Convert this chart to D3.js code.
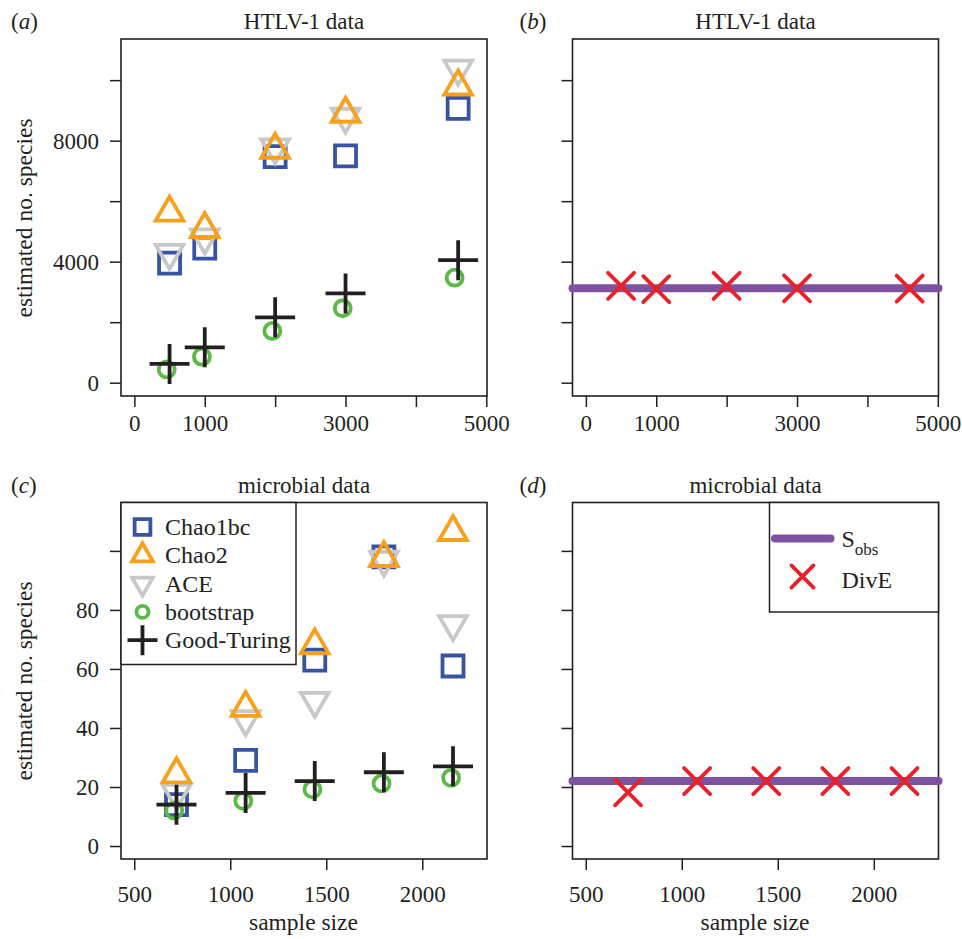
<!DOCTYPE html>
<html>
<head>
<meta charset="utf-8">
<script src="https://cdn.jsdelivr.net/npm/d3@7"></script>
<style>
  body { margin: 0; background: #fff; }
  svg text { font-family: "Liberation Serif", "DejaVu Serif", serif; fill: #231f20; }
</style>
</head>
<body>
<svg width="962" height="939"></svg>
<script>
// ---- data ----
// HTLV-1 data, panels (a) and (b)
var htlvSizes = [500, 1000, 2000, 3000, 4600];
var htlvBootSizes = [460, 960, 1960, 2960, 4550];
var htlvChao1bc = [3950, 4450, 7470, 7500, 9070];
var htlvChao2 = [5620, 5080, 7700, 8890, 9790];
var htlvACE = [4290, 4800, 7780, 8790, 10380];
var htlvBootstrap = [440, 860, 1710, 2460, 3470];
var htlvGoodTuring = [620, 1170, 2160, 2950, 4050];
var htlvSobs = 3120;
var htlvDivE = [3200, 3090, 3200, 3120, 3110];

// microbial data, panels (c) and (d)
var microSizes = [720, 1080, 1440, 1800, 2160];
var microBootSizes = [708, 1068, 1428, 1788, 2150];
var microChao1bc = [14, 29, 63, 98, 61];
var microChao2 = [24.3, 46.8, 68, 97.6, 106.4];
var microACE = [18, 43, 49.2, 97, 75.2];
var microBootstrap = [12, 15.3, 19.2, 21.2, 23.1];
var microGoodTuring = [14, 18, 22, 25, 27];
var microSobs = 22;
var microDivE = [18.2, 22, 22, 22, 22];

// ticks
var htlvXTicks = [0, 1000, 2000, 3000, 4000, 5000];
var htlvXLabels = [0, 1000, 3000, 5000];
var htlvYTicks = [0, 2000, 4000, 6000, 8000, 10000];
var htlvYLabels = [0, 4000, 8000];
var microXTicks = [500, 1000, 1500, 2000];
var microXLabels = [500, 1000, 1500, 2000];
var microYTicks = [0, 20, 40, 60, 80, 100];
var microYLabels = [0, 20, 40, 60, 80];

var legendNames = ["Chao1bc", "Chao2", "ACE", "bootstrap", "Good-Turing"];

// ---- styles ----
var col = {
  chao1bc: "#3953a4",
  chao2: "#f8a01b",
  ace: "#c8c8c8",
  boot: "#5bb947",
  gt: "#231f20",
  sobs: "#7f52a1",
  dive: "#e8212a",
  ink: "#231f20"
};
var lw = 3.8;
var fs = 23;

var svg = d3.select("svg");

// marker shapes (centred at 0,0)
function squarePath(k) { var s = 10.5 * k; return `M${-s},${-s}H${s}V${s}H${-s}Z`; }
function triUpPath(k) {
  var r = 16 * k, xc = r * Math.sqrt(3) / 2;
  return `M0,${-r}L${xc},${r / 2}L${-xc},${r / 2}Z`;
}
function triDownPath(k) {
  var r = 16 * k, xc = r * Math.sqrt(3) / 2;
  return `M0,${r}L${xc},${-r / 2}L${-xc},${-r / 2}Z`;
}
function plusPath(k) { var h = 20 * k; return `M${-h},0H${h}M0,${-h}V${h}`; }
function crossPath(k) { var h = 13 * k; return `M${-h},${-h}L${h},${h}M${-h},${h}L${h},${-h}`; }

function drawMarker(g, kind, x, y, k) {
  k = k || 1;
  var p = g.append("path").attr("transform", `translate(${x},${y})`)
    .attr("fill", "none").attr("stroke-width", lw);
  if (kind === "chao1bc") p.attr("d", squarePath(k)).attr("stroke", col.chao1bc);
  if (kind === "chao2") p.attr("d", triUpPath(k)).attr("stroke", col.chao2);
  if (kind === "ace") p.attr("d", triDownPath(k)).attr("stroke", col.ace);
  if (kind === "boot") {
    g.append("circle").attr("cx", x).attr("cy", y).attr("r", 8 * k)
      .attr("fill", "none").attr("stroke", col.boot).attr("stroke-width", lw);
    p.remove();
  }
  if (kind === "gt") p.attr("d", plusPath(k)).attr("stroke", col.gt);
  if (kind === "dive") p.attr("d", crossPath(k)).attr("stroke", col.dive).attr("stroke-linecap", "round");
}

// panel frame + axes
function makePanel(opt) {
  var g = svg.append("g").attr("transform", `translate(${opt.left},${opt.top})`);
  var x = d3.scaleLinear().domain(opt.xDomain).range([0, opt.w]);
  var y = d3.scaleLinear().domain(opt.yDomain).range([opt.h, 0]);

  var xa = g.append("g").attr("transform", `translate(0,${opt.h})`)
    .call(d3.axisBottom(x).tickValues(opt.xTicks).tickSize(11).tickSizeOuter(0)
      .tickFormat(function (d) { return opt.xLabels.indexOf(d) >= 0 ? d : ""; }));
  xa.select(".domain").remove();
  xa.selectAll("line").attr("stroke", col.ink).attr("stroke-width", 1.5);
  xa.selectAll("text").attr("font-size", fs).attr("font-family", null)
    .attr("fill", col.ink).attr("y", opt.xLabelY).attr("dy", 0);

  var ya = g.append("g")
    .call(d3.axisLeft(y).tickValues(opt.yTicks).tickSize(11).tickSizeOuter(0)
      .tickFormat(function (d) { return opt.yLabels.indexOf(d) >= 0 ? d : ""; }));
  ya.select(".domain").remove();
  ya.selectAll("line").attr("stroke", col.ink).attr("stroke-width", 1.5);
  ya.selectAll("text").attr("font-size", fs).attr("font-family", null)
    .attr("fill", col.ink).attr("x", -22).attr("dy", "0.34em");

  g.append("rect").attr("width", opt.w).attr("height", opt.h)
    .attr("fill", "none").attr("stroke", col.ink).attr("stroke-width", 1.6);

  // title and panel letter
  svg.append("text").attr("x", opt.left + opt.w / 2).attr("y", opt.top - 10)
    .attr("text-anchor", "middle").attr("font-size", fs).text(opt.title);
  var lab = svg.append("text").attr("x", opt.left - opt.letterDx).attr("y", opt.top - 10)
    .attr("font-size", fs);
  lab.append("tspan").text("(");
  lab.append("tspan").attr("font-style", "italic").text(opt.letter);
  lab.append("tspan").text(")");

  return { g: g, x: x, y: y };
}

var htlvX = [-190, 5010], htlvY = [-440, 11360];
var microX = [431, 2337], microY = [-4.4, 116.4];

var pa = makePanel({ left: 121, top: 39, w: 366, h: 357, xDomain: htlvX, yDomain: htlvY,
  xTicks: htlvXTicks, xLabels: htlvXLabels, yTicks: htlvYTicks, yLabels: htlvYLabels,
  xLabelY: 35, title: "HTLV-1 data", letter: "a", letterDx: 110 });
var pb = makePanel({ left: 572.5, top: 39, w: 366, h: 357, xDomain: htlvX, yDomain: htlvY,
  xTicks: htlvXTicks, xLabels: htlvXLabels, yTicks: htlvYTicks, yLabels: [],
  xLabelY: 35, title: "HTLV-1 data", letter: "b", letterDx: 53 });
var pc = makePanel({ left: 121, top: 502.5, w: 366, h: 356.5, xDomain: microX, yDomain: microY,
  xTicks: microXTicks, xLabels: microXLabels, yTicks: microYTicks, yLabels: microYLabels,
  xLabelY: 43, title: "microbial data", letter: "c", letterDx: 110 });
var pd = makePanel({ left: 572.5, top: 502.5, w: 366, h: 356.5, xDomain: microX, yDomain: microY,
  xTicks: microXTicks, xLabels: microXLabels, yTicks: microYTicks, yLabels: [],
  xLabelY: 43, title: "microbial data", letter: "d", letterDx: 53 });

// axis titles
[[218, "estimated no. species"], [681, "estimated no. species"]].forEach(function (d) {
  svg.append("text").attr("transform", `translate(31.5,${d[0]}) rotate(-90)`)
    .attr("text-anchor", "middle").attr("font-size", fs + 0.5).text(d[1]);
});
[303.5, 755].forEach(function (cx) {
  svg.append("text").attr("x", cx).attr("y", 930).attr("text-anchor", "middle")
    .attr("font-size", fs + 0.5).text("sample size");
});

// estimator points, panels (a) and (c)
function drawEstimators(p, sizes, bootSizes, series) {
  ["chao1bc", "ace", "chao2"].forEach(function (k) {
    series[k].forEach(function (v, i) { drawMarker(p.g, k, p.x(sizes[i]), p.y(v)); });
  });
  series.boot.forEach(function (v, i) { drawMarker(p.g, "boot", p.x(bootSizes[i]), p.y(v)); });
  series.gt.forEach(function (v, i) { drawMarker(p.g, "gt", p.x(sizes[i]), p.y(v)); });
}
drawEstimators(pa, htlvSizes, htlvBootSizes,
  { chao1bc: htlvChao1bc, chao2: htlvChao2, ace: htlvACE, boot: htlvBootstrap, gt: htlvGoodTuring });
drawEstimators(pc, microSizes, microBootSizes,
  { chao1bc: microChao1bc, chao2: microChao2, ace: microACE, boot: microBootstrap, gt: microGoodTuring });

// Sobs line + DivE, panels (b) and (d)
function drawDivE(p, sizes, sobs, dive) {
  var xd = p.x.domain();
  p.g.append("line").attr("x1", p.x(xd[0])).attr("x2", p.x(xd[1]))
    .attr("y1", p.y(sobs)).attr("y2", p.y(sobs))
    .attr("stroke", col.sobs).attr("stroke-width", 8).attr("stroke-linecap", "round");
  dive.forEach(function (v, i) { drawMarker(p.g, "dive", p.x(sizes[i]), p.y(v)); });
}
drawDivE(pb, htlvSizes, htlvSobs, htlvDivE);
drawDivE(pd, microSizes, microSobs, microDivE);

// legend (c)
var legC = pc.g.append("g");
legC.append("rect").attr("x", 0).attr("y", 0).attr("width", 175).attr("height", 162)
  .attr("fill", "#fff").attr("stroke", col.ink).attr("stroke-width", 1.5);
["chao1bc", "chao2", "ace", "boot", "gt"].forEach(function (k, i) {
  var cy = 24.5 + i * 28.3;
  drawMarker(legC, k, 21.5, cy, 0.75);
  legC.append("text").attr("x", 44).attr("y", cy).attr("dy", "0.33em")
    .attr("font-size", fs + 1).text(legendNames[i]);
});

// legend (d)
var legD = pd.g.append("g").attr("transform", "translate(197,0)");
legD.append("rect").attr("width", 169).attr("height", 109.5)
  .attr("fill", "#fff").attr("stroke", col.ink).attr("stroke-width", 1.5);
legD.append("line").attr("x1", 5.5).attr("x2", 61).attr("y1", 36).attr("y2", 36)
  .attr("stroke", col.sobs).attr("stroke-width", 8).attr("stroke-linecap", "round");
var st = legD.append("text").attr("x", 72).attr("y", 44).attr("font-size", fs + 1);
st.append("tspan").text("S");
st.append("tspan").attr("font-size", 17).attr("dy", 8).text("obs");
drawMarker(legD, "dive", 33, 74, 0.85);
legD.append("text").attr("x", 72).attr("y", 85).attr("font-size", fs + 1).text("DivE");
</script>
</body>
</html>
